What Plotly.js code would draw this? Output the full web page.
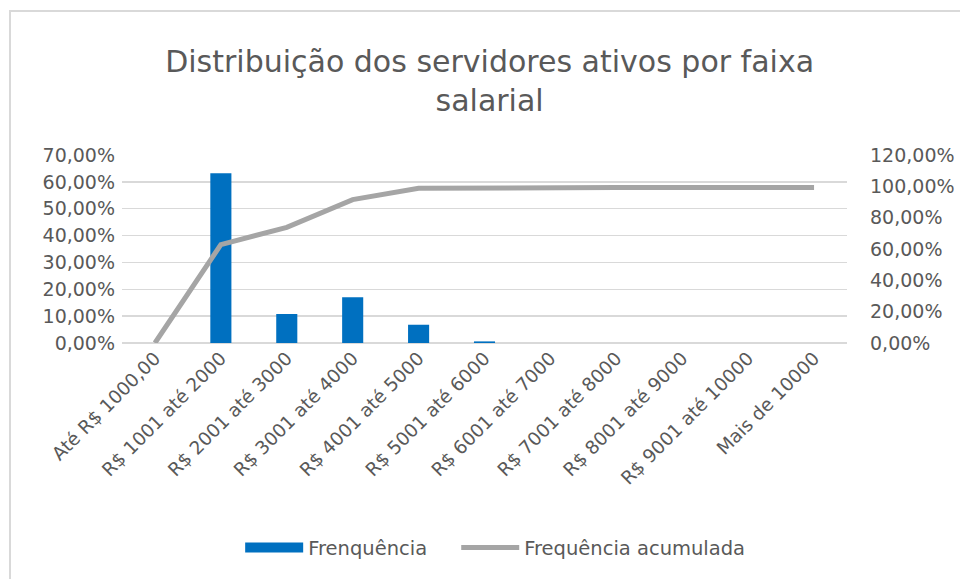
<!DOCTYPE html>
<html>
<head>
<meta charset="utf-8">
<script src="https://cdn.plot.ly/plotly-3.0.1.min.js"></script>
<style>
html,body{margin:0;padding:0;background:#fff;}
#chart{width:960px;height:579px;}
#frame{position:absolute;left:9px;top:10px;width:960px;height:579px;border-left:2px solid #d9d9d9;border-top:2px solid #d9d9d9;pointer-events:none;}
</style>
</head>
<body>
<div id="chart"></div>
<div id="frame"></div>
<script>
const categories = ["Até R$ 1000,00","R$ 1001 até 2000","R$ 2001 até 3000","R$ 3001 até 4000","R$ 4001 até 5000","R$ 5001 até 6000","R$ 6001 até 7000","R$ 7001 até 8000","R$ 8001 até 9000","R$ 9001 até 10000","Mais de 10000"];
const frequencia = [0, 0.632, 0.108, 0.170, 0.068, 0.006, 0, 0, 0, 0, 0];
const acumulada = [0, 0.628, 0.738, 0.915, 0.988, 0.992, 0.992, 0.992, 0.992, 0.992, 0.992];

const FONT = "DejaVu Sans";
const GREY = "#595959";
const BLUE = "#0070C0";

const traces = [
  {type:"bar", name:"Frenquência", x:categories, y:frequencia, width:0.32,
   marker:{color:BLUE}, yaxis:"y", showlegend:false, legendgroup:"f"},
  // legend entry for the bar series, drawn as a wide swatch like the original
  {type:"scatter", mode:"lines", name:"Frenquência", x:[null], y:[null],
   line:{color:BLUE, width:12}, yaxis:"y", legendgroup:"f", hoverinfo:"skip", legend:"legend"},
  {type:"scatter", mode:"lines", name:"Frequência acumulada", x:categories, y:acumulada,
   line:{color:"#A5A5A5", width:5}, yaxis:"y2", legend:"legend2"}
];

const legendBase = {orientation:"h", xanchor:"left", y:-1.09, yanchor:"middle",
  font:{family:FONT, size:19.5, color:GREY}, itemwidth:58, bgcolor:"rgba(0,0,0,0)"};

const layout = {
  width:960, height:579,
  separators:",.",
  paper_bgcolor:"#fff", plot_bgcolor:"#fff",
  margin:{l:122, r:113, t:155, b:236},
  font:{family:FONT, color:GREY, size:18},
  title:{text:"Distribuição dos servidores ativos por faixa<br>salarial",
         font:{family:FONT, size:30, color:GREY},
         xref:"container", x:0.51, yref:"container", y:0.876, yanchor:"middle", xanchor:"center"},
  xaxis:{type:"category", tickangle:-45, showgrid:false, showline:false, ticks:"",
         tickfont:{family:FONT, size:18.5, color:GREY}, fixedrange:true},
  yaxis:{range:[0,0.7], dtick:0.1, tickformat:".2%", showgrid:true, gridcolor:"#d9d9d9", gridwidth:1.5,
         zeroline:true, zerolinecolor:"#d9d9d9", zerolinewidth:1.5, showline:false, ticks:"",
         ticklabelstandoff:6, tickfont:{family:FONT, size:19, color:GREY}},
  yaxis2:{range:[0,1.2], dtick:0.2, tickformat:".2%", overlaying:"y", side:"right", showgrid:false,
          zeroline:false, showline:false, ticks:"", ticklabelstandoff:22,
          tickfont:{family:FONT, size:19, color:GREY}},
  showlegend:true,
  legend:Object.assign({}, legendBase, {x:0.163}),
  legend2:Object.assign({}, legendBase, {x:0.461}),
  bargap:0.68
};

Plotly.newPlot("chart", traces, layout, {displayModeBar:false, staticPlot:true});
</script>
</body>
</html>
